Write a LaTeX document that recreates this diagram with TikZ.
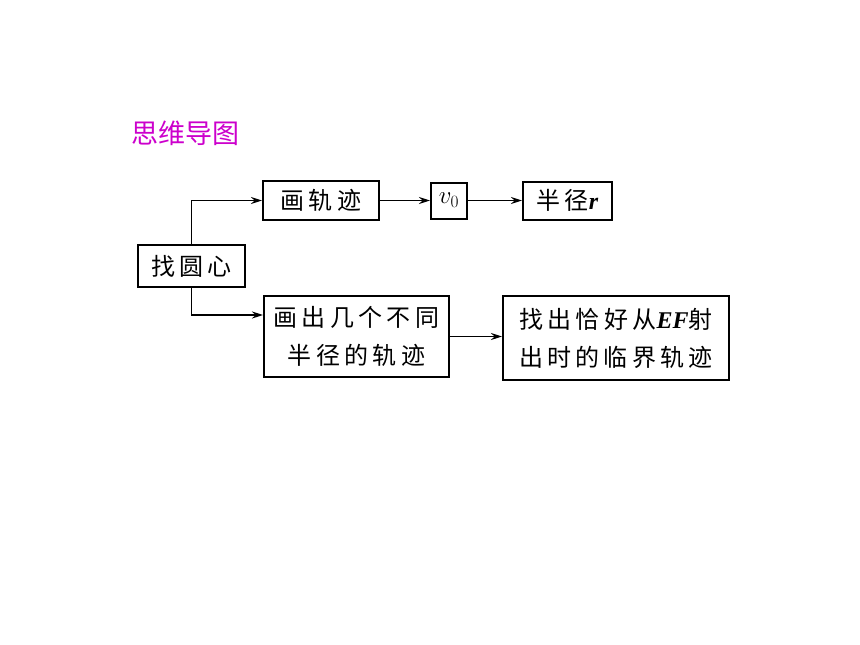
\documentclass[tikz,border=0pt]{standalone}
\usepackage{fontspec}
\newfontfamily\cjk[LetterSpace=18]{Noto Sans CJK SC}
\newfontfamily\titlefont{Noto Sans CJK SC}
\newfontfamily\latin{Liberation Serif}
\usetikzlibrary{arrows.meta}
\usetikzlibrary{positioning}
\definecolor{titlemagenta}{RGB}{204,0,204}

\tikzset{
  box/.style={draw, line width=2pt, inner sep=0pt, align=center,
    font=\cjk\fontsize{24}{38}\selectfont},
  link/.style={line width=1.6pt, -{Stealth[length=11pt, width=7pt]}}
}

\begin{document}
\begin{tikzpicture}[x=1pt, y=-1pt]
\useasboundingbox (0, 0) rectangle (860, 645);

\node (title) at (185, 133) [font=\titlefont\fontsize{27}{30}\selectfont, text=titlemagenta] {思维导图};

\node (center) at (191.5, 266) [box, minimum width=107, minimum height=42] {找圆心};
\node (path) at (321, 200.5) [box, minimum width=116, minimum height=39] {画轨迹};
\node (speed) at (449, 200.5) [box, font=\fontsize{27}{30}\selectfont, minimum width=36, minimum height=36] {$v_0$};
\node (radius) at (567.5, 200.5) [box, minimum width=89, minimum height=38] {半径{\latin\bfseries\itshape r}};
\node (several) at (356.5, 336.5) [box, minimum width=185, minimum height=81] {画出几个不同\\半径的轨迹};
\node (critical) at (616, 338) [box, minimum width=226, minimum height=84] {找出恰好从{\latin\bfseries\itshape EF}射\\出时的临界轨迹};

\draw [link] (center.north) |- (path.west);
\draw [link] (path.east) -- (speed.west);
\draw [link] (speed.east) -- (radius.west);
\draw [link] (center.south) |- ([yshift=-20pt]several.north west);
\draw [link] (several.east) -- (several.east -| critical.west);

\end{tikzpicture}
\end{document}
